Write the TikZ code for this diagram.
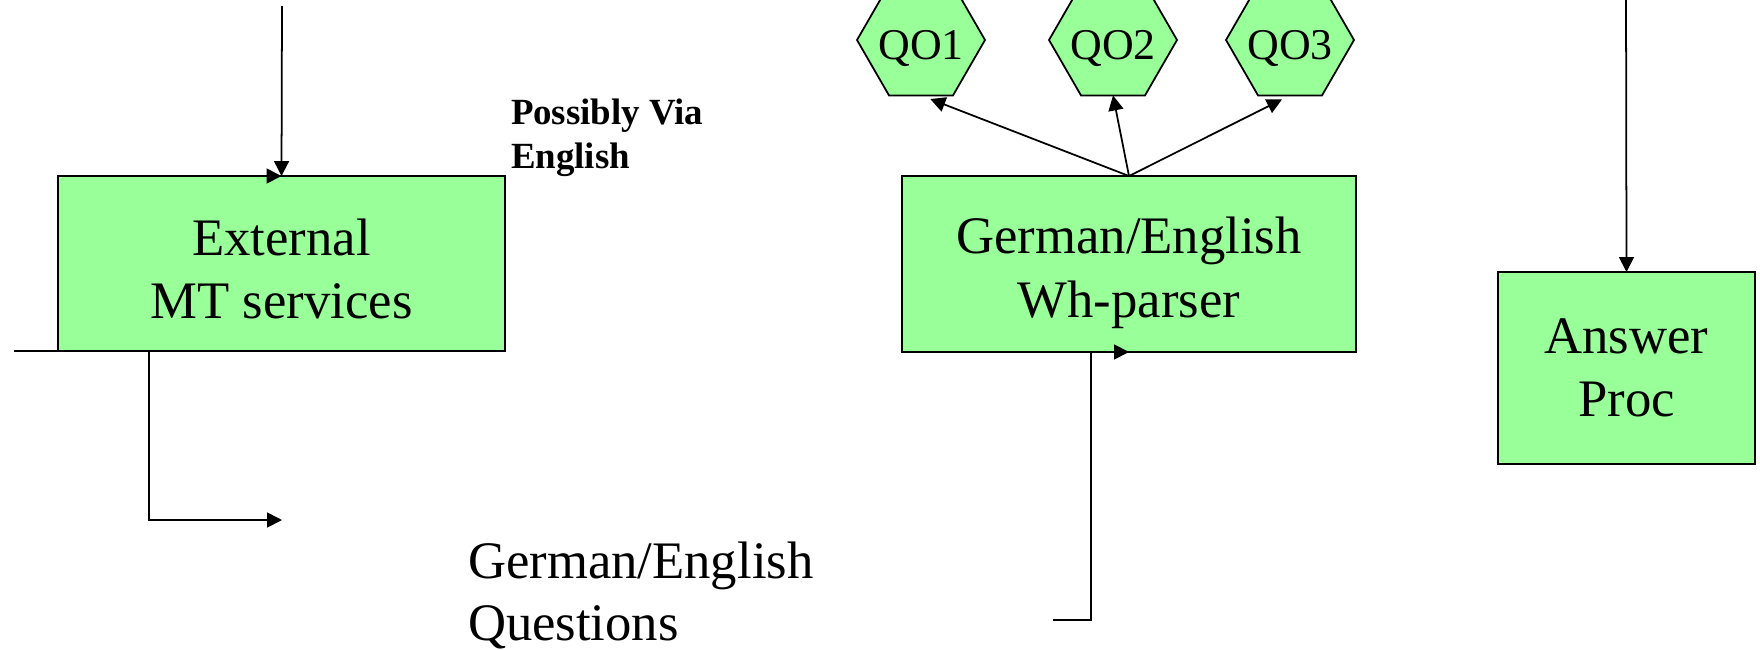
\documentclass[tikz,border=0pt]{standalone}
\usepackage{fontspec}
\setmainfont{Liberation Serif}
\usetikzlibrary{arrows.meta,shapes.geometric}
\definecolor{boxgreen}{RGB}{153,255,153}
\begin{document}
\begin{tikzpicture}[x=0.02cm,y=-0.02cm,
  every node/.style={inner sep=0pt, outer sep=0pt},
  procbox/.style={draw=black, line width=1.1pt, fill=boxgreen, rectangle,
    align=center, font=\fontsize{30pt}{36pt}\selectfont},
  qobox/.style={draw=black, line width=1pt, fill=boxgreen,
    regular polygon, regular polygon sides=6, minimum size=2.56cm,
    text height=0.8cm, text depth=0pt, font=\fontsize{25pt}{30pt}\selectfont},
  conn/.style={line width=1pt, -{Triangle[length=0.3cm,width=0.3cm]}},
  caption/.style={align=left, anchor=north west, font=\fontsize{30pt}{35pt}\selectfont},
  note/.style={align=left, anchor=north west, font=\bfseries\fontsize{21pt}{25pt}\selectfont},
]
\useasboundingbox (0,0) rectangle (1760,649);
\clip (0,0) rectangle (1760,649);

% processing boxes (the zero-width rules lower each two-line label a little)
\node[procbox, minimum width=8.94cm, minimum height=3.5cm] (ext) at (281.5,263.5)
  {\rule{0pt}{0.94cm}External\\MT services};
\node[procbox, minimum width=9.08cm, minimum height=3.52cm] (wh) at (1129,264)
  {\rule{0pt}{1.08cm}German/English\\Wh-parser};
\node[procbox, minimum width=5.14cm, minimum height=3.84cm] (ans) at (1626.5,368)
  {Answer\\Proc};

% query objects (zero-width labels so the hexagon keeps its own size)
\node[qobox] (q1) at (921,40) {\makebox[0pt]{QO1}};
\node[qobox] (q2) at (1113,40) {\makebox[0pt]{QO2}};
\node[qobox] (q3) at (1290,40) {\makebox[0pt]{QO3}};

% free texts
\node[note] (via) at (511,99) {Possibly Via\\English};
\node[caption] (questions) at (468,542) {German/English\\Questions};

% connector end points
\coordinate (extIn) at (282,6);
\coordinate (extSide) at (107,176);
\coordinate (extOutStart) at (14,351);
\coordinate (extOutBend) at (149,351);
\coordinate (extOutEnd) at (282,520);
\coordinate (whInStart) at (1053,620);
\coordinate (whInBend) at (1091,352);
\coordinate (ansIn) at (1626,-5);

% connectors
\draw[conn] (extIn) -- (ext.north);
\draw[conn] (extSide) -- (ext.north);
\draw[conn] (extOutStart) -- (extOutBend) |- (extOutEnd);
\draw[conn] (whInStart) -| (whInBend) -- (wh.south);
\draw[conn, shorten >=0.2cm] (wh.north) -- (q1.south);
\draw[conn] (wh.north) -- (q2.south);
\draw[conn, shorten >=0.18cm] (wh.north) -- (q3.south);
\draw[conn] (ansIn) -- (ans.north);
\end{tikzpicture}
\end{document}
